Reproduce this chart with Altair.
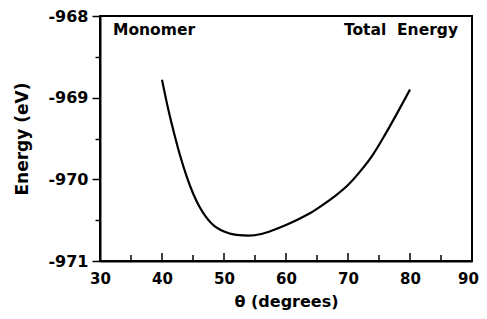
import altair as alt
import pandas as pd

# Curve
theta = [40, 41, 42, 43, 44, 45, 46, 47, 48, 50, 52, 54, 56, 58, 60, 62, 64, 66, 68, 70, 72, 74, 76, 78, 80]
energy = [-968.78, -969.14, -969.45, -969.73, -969.97, -970.17, -970.33, -970.45, -970.54, -970.64,
          -970.68, -970.69, -970.67, -970.62, -970.56, -970.49, -970.41, -970.31, -970.20, -970.07,
          -969.90, -969.70, -969.45, -969.18, -968.90]

x_major = [30, 40, 50, 60, 70, 80, 90]
x_minor = [35, 45, 55, 65, 75, 85]
y_ticks = [-971, -970.5, -970, -969.5, -969, -968.5, -968]

labels_left = ["Monomer"]
labels_right = ["Total\u00a0\u00a0Energy"]

FONT = "DejaVu Sans"

df = pd.DataFrame({"theta": theta, "energy": energy})

xscale = alt.Scale(domain=[30, 90], nice=False, zero=False)
yscale = alt.Scale(domain=[-971, -968], nice=False, zero=False)

line = alt.Chart(df).mark_line(color="black", strokeWidth=2.2, interpolate="monotone").encode(
    x=alt.X("theta:Q", scale=xscale,
            axis=alt.Axis(values=x_major, title="θ (degrees)", tickSize=0, labelPadding=10,
                          labelOffset={"condition": {"test": "datum.value == 90", "value": -4}, "value": 0},
                          labelFont=FONT, labelFontSize=15, labelFontWeight="bold", labelColor="black",
                          titleFont=FONT, titleFontSize=16, titleFontWeight="bold", titleColor="black",
                          titlePadding=7, domainColor="black", domainWidth=2, grid=False,
                          labelFlush=False, labelOverlap=False)),
    y=alt.Y("energy:Q", scale=yscale,
            axis=alt.Axis(values=y_ticks, title="Energy (eV)",
                          tickSize={"condition": {"test": "datum.value % 1 == 0", "value": 8}, "value": 5},
                          tickColor="black", tickWidth=1.5,
                          labelExpr="datum.value % 1 == 0 ? '-' + abs(datum.value) : ''",
                          labelPadding=4, labelFont=FONT, labelFontSize=16, labelFontWeight="bold",
                          labelColor="black", titleFont=FONT, titleFontSize=17, titleFontWeight="bold",
                          titleColor="black", titlePadding=16, domainColor="black", domainWidth=2,
                          grid=False, labelFlush=False, labelOverlap=False)),
)

maj = alt.Chart(pd.DataFrame({"t": x_major})).mark_rule(color="black", strokeWidth=1.5).encode(
    x=alt.X("t:Q", scale=xscale), y=alt.value(245), y2=alt.value(237))
mnr = alt.Chart(pd.DataFrame({"t": x_minor})).mark_rule(color="black", strokeWidth=1.5).encode(
    x=alt.X("t:Q", scale=xscale), y=alt.value(245), y2=alt.value(239))

t1 = alt.Chart(pd.DataFrame({"label": labels_left})).mark_text(
    align="left", baseline="middle", font=FONT, fontSize=15.5, fontWeight="bold", color="black"
).encode(text="label:N", x=alt.value(13), y=alt.value(14))
t2 = alt.Chart(pd.DataFrame({"label": labels_right})).mark_text(
    align="right", baseline="middle", font=FONT, fontSize=15.5, fontWeight="bold", color="black"
).encode(text="label:N", x=alt.value(358), y=alt.value(14))

chart = alt.layer(line, maj, mnr, t1, t2).properties(
    width=372, height=245,
    padding={"left": 92, "top": 8, "right": 7, "bottom": 50},
    autosize=alt.AutoSizeParams(type="none"),
).configure_view(stroke="black", strokeWidth=2)

chart.save("out.html", embed_options={"renderer": "svg", "actions": False})
